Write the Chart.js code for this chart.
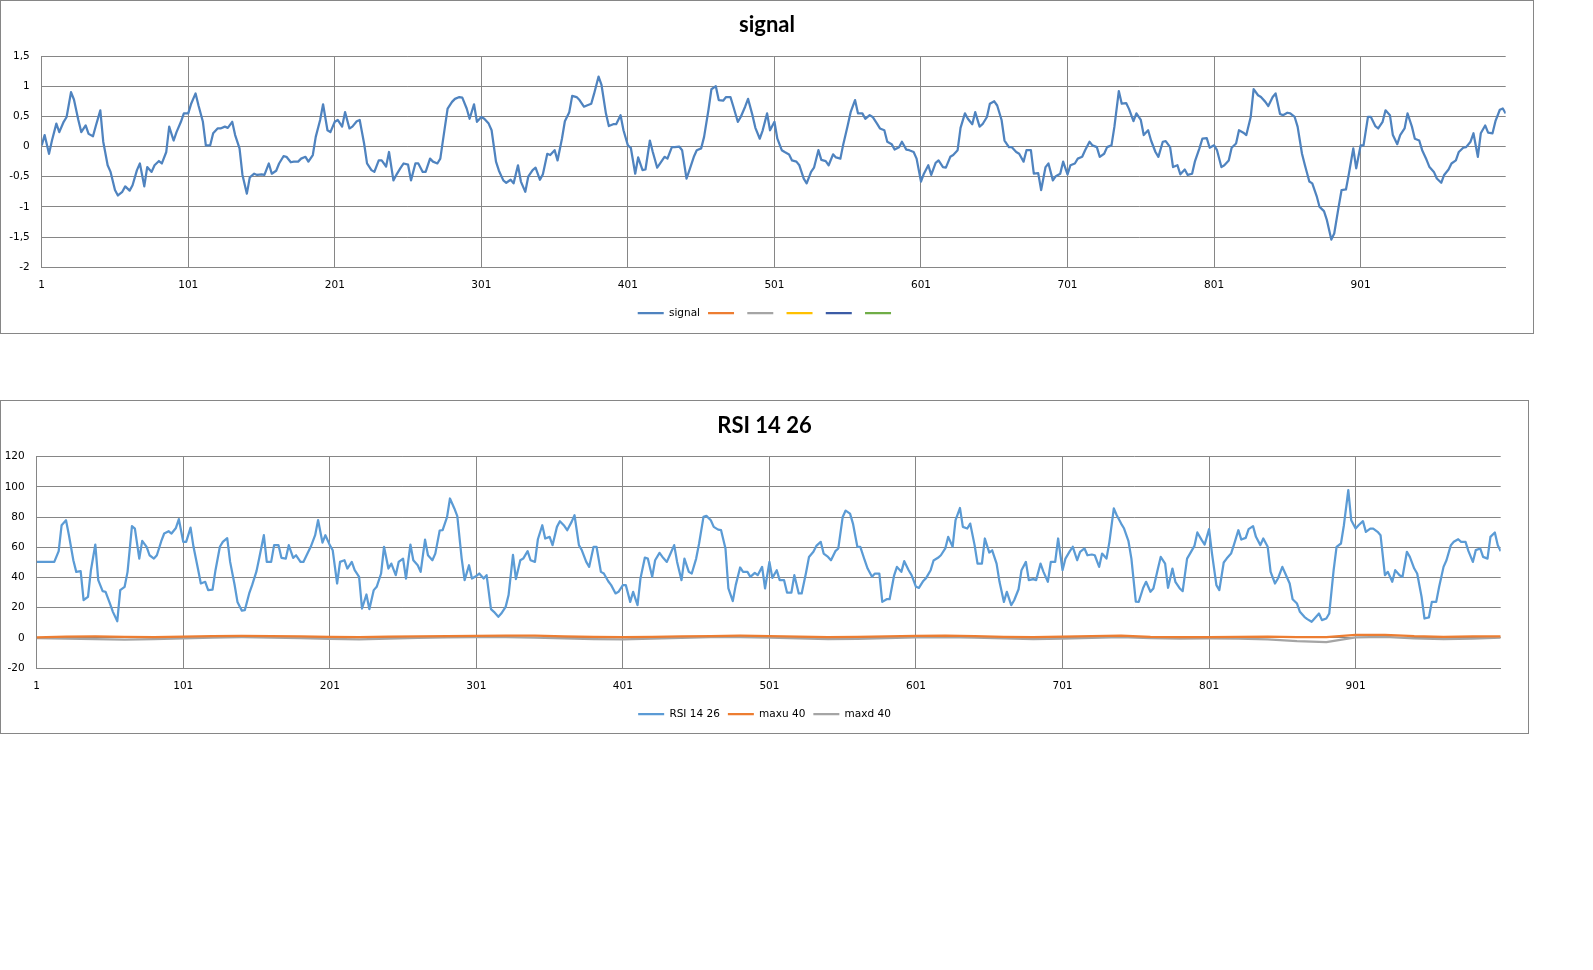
<!DOCTYPE html>
<html>
<head>
<meta charset="utf-8">
<script src="https://cdn.jsdelivr.net/npm/chart.js@4.4.0/dist/chart.umd.min.js"></script>
<style>
  html, body { margin: 0; padding: 0; background: #fff; }
  body { width: 1593px; height: 970px; position: relative; overflow: hidden; }
  .box { position: absolute; border: 1px solid #868686; box-sizing: border-box; background: #fff; }
  #box1 { left: 0; top: 0; width: 1534px; height: 334px; }
  #box2 { left: 0; top: 400px; width: 1529px; height: 334px; }
  canvas { display: block; }
</style>
</head>
<body>
<div class="box" id="box1"><canvas id="signalChart" width="1532" height="332"></canvas></div>
<div class="box" id="box2"><canvas id="rsiChart" width="1527" height="332"></canvas></div>
<script>
// sample positions on the 1..1000 category axis
const sampleIdx = Array.from({ length: 200 }, (_, i) => 1 + i * 5).concat([1000]);
const midIdx = Array.from({ length: 200 }, (_, i) => 3 + i * 5);
// slow series (maxu / maxd) read every 20 samples
const slowIdx = Array.from({ length: 50 }, (_, i) => 1 + i * 20).concat([1000]);
const xTicks = [1, 101, 201, 301, 401, 501, 601, 701, 801, 901];

// signal at 1, 6, 11 ... 996, 1000
const signalVals = [
  0.02, -0.12, 0.38, 0.41, 0.9, 0.44, 0.35, 0.17, 0.6, -0.31,
  -0.72, -0.75, -0.73, -0.39, -0.66, -0.42, -0.24, -0.09, 0.1, 0.41,
  0.55, 0.88, 0.41, 0.02, 0.3, 0.33, 0.41, -0.03, -0.78, -0.45,
  -0.46, -0.28, -0.4, -0.16, -0.26, -0.25, -0.17, -0.14, 0.44, 0.27,
  0.41, 0.33, 0.3, 0.42, 0.05, -0.39, -0.23, -0.33, -0.56, -0.35,
  -0.3, -0.28, -0.42, -0.2, -0.28, 0.3, 0.74, 0.82, 0.63, 0.7,
  0.49, 0.38, -0.25, -0.56, -0.55, -0.31, -0.75, -0.39, -0.55, -0.12,
  -0.06, 0.13, 0.57, 0.82, 0.66, 0.71, 1.16, 0.55, 0.37, 0.52,
  0.02, -0.45, -0.39, 0.1, -0.35, -0.17, -0.01, 0, -0.53, -0.17,
  -0.03, 0.61, 1.0, 0.76, 0.82, 0.41, 0.66, 0.52, 0.13, 0.55,
  0.41, -0.06, -0.13, -0.25, -0.53, -0.42, -0.06, -0.24, -0.13, -0.2,
  0.35, 0.77, 0.55, 0.52, 0.38, 0.27, 0.04, -0.01, -0.05, -0.09,
  -0.58, -0.31, -0.27, -0.34, -0.17, -0.06, 0.55, 0.37, 0.33, 0.49,
  0.75, 0.44, -0.01, -0.09, -0.25, -0.06, -0.44, -0.34, -0.56, -0.45,
  -0.46, -0.28, -0.17, 0.08, -0.01, -0.12, 0.02, 0.92, 0.72, 0.42,
  0.44, 0.27, -0.09, 0.08, -0.01, -0.31, -0.38, -0.45, -0.03, 0.14,
  0.02, -0.34, -0.23, 0.05, 0.23, 0.49, 0.85, 0.74, 0.82, 0.54,
  0.56, 0.49, -0.12, -0.58, -0.82, -1.07, -1.54, -1.0, -0.71, -0.03,
  0.02, 0.49, 0.34, 0.41, 0.52, 0.04, 0.3, 0.33, 0.1, -0.22,
  -0.42, -0.6, -0.38, -0.23, -0.02, 0.08, -0.17, 0.35, 0.22, 0.61,
  0.55
];
// signal at 3, 8, 13 ... 998
const signalMidVals = [
  0.19, 0.1, 0.24, 0.49, 0.78, 0.24, 0.21, 0.35, 0.08, -0.42,
  -0.81, -0.66, -0.64, -0.28, -0.34, -0.31, -0.28, 0.33, 0.24, 0.55,
  0.71, 0.68, 0.02, 0.22, 0.3, 0.31, 0.19, -0.47, -0.51, -0.47,
  -0.47, -0.45, -0.28, -0.17, -0.25, -0.2, -0.25, 0.16, 0.7, 0.24,
  0.44, 0.57, 0.33, 0.44, -0.28, -0.42, -0.23, -0.09, -0.47, -0.28,
  -0.56, -0.28, -0.42, -0.25, -0.2, 0.63, 0.79, 0.81, 0.46, 0.41,
  0.46, 0.27, -0.4, -0.6, -0.61, -0.58, -0.5, -0.35, -0.46, -0.14,
  -0.23, 0.42, 0.84, 0.77, 0.68, 0.88, 1.02, 0.34, 0.37, 0.27,
  -0.02, -0.18, -0.38, -0.09, -0.28, -0.2, -0.01, -0.06, -0.39, -0.06,
  0.16, 0.95, 0.77, 0.82, 0.66, 0.49, 0.79, 0.31, 0.27, 0.27,
  0.13, -0.09, -0.23, -0.31, -0.61, -0.35, -0.22, -0.31, -0.18, 0.04,
  0.57, 0.55, 0.46, 0.49, 0.3, 0.08, -0.05, 0.08, -0.06, -0.2,
  -0.45, -0.47, -0.23, -0.35, -0.14, 0.31, 0.46, 0.57, 0.37, 0.71,
  0.68, 0.1, -0.01, -0.12, -0.06, -0.45, -0.72, -0.28, -0.49, -0.25,
  -0.31, -0.2, -0.06, 0.02, -0.17, -0.01, 0.33, 0.71, 0.62, 0.55,
  0.19, 0.1, -0.17, 0.09, -0.34, -0.46, -0.47, -0.24, 0.13, -0.02,
  -0.06, -0.31, -0.02, 0.27, 0.19, 0.95, 0.82, 0.67, 0.88, 0.52,
  0.55, 0.33, -0.31, -0.61, -1.0, -1.22, -1.44, -0.72, -0.45, -0.36,
  0.02, 0.49, 0.3, 0.6, 0.19, 0.19, 0.55, 0.13, -0.06, -0.34,
  -0.53, -0.47, -0.28, -0.09, -0.01, 0.22, 0.22, 0.23, 0.42, 0.63
];

// RSI 14 26 at 1, 6, 11 ... 996, 1000
const rsiVals = [
  50.3, 50.3, 50.3, 57.4, 77.9, 51.4, 44.2, 27.2, 61.8, 30.9,
  22.7, 11, 33.8, 74, 52.5, 60.3, 52.5, 64, 70.6, 72.8,
  63.6, 73, 45.9, 37.1, 32, 60.3, 66, 35.3, 18, 29.4,
  44.2, 68, 50.3, 61.4, 52.5, 53, 50.3, 56.3, 68, 63.1,
  61.4, 36, 51.4, 50.3, 40.4, 28.7, 31.6, 42.6, 45.9, 41.5,
  52.5, 61.8, 48.1, 65, 51.4, 71.1, 80, 85.7, 52.5, 48.1,
  41, 39.3, 19, 13.9, 20.5, 55, 51.4, 57.4, 50.3, 74.6,
  66.9, 73.5, 74.2, 76.8, 61.4, 50.3, 60.3, 43.7, 37.5, 29.4,
  34.9, 23.8, 21.6, 53.2, 40.4, 56.3, 50.3, 61.4, 38.2, 43.7,
  52.5, 80.1, 77.9, 71.7, 59.2, 24.3, 46.6, 43.7, 43, 47,
  50.3, 44.8, 38.2, 30, 29.4, 43.3, 57, 63.6, 53.6, 57.4,
  80.1, 82.3, 60.3, 51.4, 40.4, 42.6, 25.6, 41, 43.7, 44.8,
  33.8, 37.7, 44.8, 53, 59.2, 60.3, 86, 72.4, 61.4, 49.2,
  56.5, 49.2, 23.8, 21.6, 32.2, 50.3, 38.9, 49.2, 37.1, 50.3,
  44.8, 57.4, 51.4, 59.2, 55.2, 47, 52.5, 85.7, 75.7, 64,
  24, 33, 30.5, 45.5, 49.2, 45.9, 32.7, 52.5, 60.9, 64.7,
  72, 34.9, 49.9, 55.8, 71.3, 66.2, 74, 61.4, 60.3, 36,
  47, 36, 22.7, 13.9, 10.6, 16.1, 12.8, 44.8, 62.5, 97.8,
  72.4, 77.3, 72.4, 70.2, 41.5, 37.1, 41.5, 57, 45.9, 27.2,
  13.5, 23.8, 47, 61.4, 65.3, 63.6, 50.3, 59.2, 52.5, 69.8,
  57.4
];
// RSI 14 26 at 3, 8, 13 ... 998
const rsiMidVals = [
  50.3, 50.3, 50.3, 74.6, 68, 43.7, 25, 44.8, 38.2, 30.5,
  17.2, 31.6, 43.7, 72.4, 64.2, 54.7, 54.7, 69.1, 69.1, 78.6,
  63.6, 60.3, 36, 31.6, 44.8, 63.6, 50.3, 23.8, 18.3, 34.9,
  53.6, 50.3, 61.4, 53, 61.4, 54.7, 50.3, 60.3, 78, 68,
  58, 50.3, 45.9, 44.8, 19.4, 19, 33.8, 60.3, 49.2, 50.3,
  39.3, 51.4, 43.7, 54.7, 55.8, 71.3, 92.3, 80.6, 38.2, 39.3,
  42.6, 41.5, 17.2, 16.1, 28.3, 38.9, 52.5, 51.4, 65.3, 65.8,
  61.4, 77.3, 71.3, 81.2, 58, 47, 60.3, 42.6, 34.9, 30.5,
  34.9, 30.5, 39.3, 52.5, 51.4, 53.6, 54.7, 50.3, 52.5, 42.6,
  62.5, 80.8, 73.5, 71.3, 32.7, 34.9, 43.7, 40.4, 41.5, 32.7,
  39.7, 38.2, 30, 41.5, 29.4, 53.6, 60.9, 55.8, 51.4, 59.2,
  84.3, 75.7, 60.3, 45.9, 42.6, 23.8, 25.6, 47, 50.8, 41.5,
  33.1, 39.7, 51.2, 54.7, 66.9, 77.9, 73.5, 75.7, 49.2, 65.8,
  58, 37.1, 30.5, 24.9, 44.8, 38.2, 38.2, 43.7, 50.3, 65.8,
  52.5, 60.3, 57, 54.7, 54.7, 55.8, 63.6, 81.2, 72.4, 52.5,
  23.8, 37.1, 32.7, 53.6, 33.1, 37.1, 30.9, 55.8, 69.8, 61.8,
  55.8, 31.6, 52.5, 61.8, 65.1, 72, 66.9, 65.8, 43.7, 39.3,
  42.6, 25.6, 17.2, 12.4, 12.8, 11.7, 16.1, 60.3, 74.6, 77.9,
  74.6, 70.2, 72.4, 68, 43.7, 44.8, 40.4, 53.6, 42.6, 12.8,
  23.8, 33.8, 51.4, 63.6, 63.6, 57.4, 58.1, 53.6, 66.9, 61.4
];

const maxuVals = [
  0.3, 0.8, 0.9, 0.6, 0.5, 0.8, 1.1, 1.3, 1.2, 0.9,
  0.7, 0.5, 0.8, 1.0, 1.1, 1.3, 1.5, 1.4, 1.0, 0.6,
  0.4, 0.6, 0.9, 1.2, 1.4, 1.2, 0.8, 0.5, 0.6, 0.9,
  1.3, 1.5, 1.2, 0.7, 0.5, 0.8, 1.1, 1.4, 0.6, 0.4,
  0.5, 0.6, 0.8, 0.4, 0.5, 1.9, 2.0, 1.1, 0.7, 0.9,
  1.0
];

const maxdVals = [
  -0.2, -0.5, -0.9, -1.2, -0.8, -0.3, 0.2, 0.4, 0.2, -0.2,
  -0.7, -1.0, -0.5, 0, 0.3, 0.5, 0.4, 0.1, -0.3, -0.8,
  -1.1, -0.6, -0.1, 0.4, 0.5, 0.2, -0.4, -0.9, -0.7, -0.2,
  0.3, 0.5, 0.2, -0.4, -0.8, -0.5, 0, 0.4, -0.2, -0.5,
  -0.4, -0.6, -1.0, -2.2, -2.8, 0.3, 0.6, -0.4, -0.9, -0.5,
  0.2
];

const GRID = '#868686';
const tickFont = { family: 'DejaVu Sans', size: 10.5 };

function points(idx, vals) {
  return idx.map((x, i) => ({ x: x, y: vals[i] }));
}

function merged(idxA, valsA, idxB, valsB) {
  return points(idxA, valsA).concat(points(idxB, valsB)).sort((a, b) => a.x - b.x);
}

function lineSet(label, data, color) {
  return {
    label: label,
    data: data,
    borderColor: color,
    backgroundColor: color,
    borderWidth: 2.25,
    pointRadius: 0,
    tension: 0,
    borderJoinStyle: 'round'
  };
}

function buildOptions(o) {
  return {
    responsive: false,
    animation: false,
    events: [],
    layout: { padding: { left: 0, right: 0, top: 0, bottom: o.bottom } },
    plugins: {
      title: {
        display: true,
        text: o.title,
        color: '#000',
        font: { family: 'Lato', size: 22, weight: 'bold' },
        padding: { top: o.titleTop, bottom: o.titleBottom }
      },
      legend: {
        position: 'bottom',
        labels: {
          usePointStyle: true,
          pointStyle: 'line',
          pointStyleWidth: 26,
          padding: 8,
          color: '#000',
          font: tickFont
        }
      },
      tooltip: { enabled: false }
    },
    scales: {
      x: {
        type: 'linear',
        min: 1,
        max: 1000,
        afterBuildTicks: s => { s.ticks = xTicks.map(v => ({ value: v })); },
        afterFit: s => { s.height = o.xHeight; },
        grid: { color: GRID, drawTicks: false },
        border: { color: GRID },
        ticks: { padding: 12, color: '#000', font: tickFont, maxRotation: 0, autoSkip: false, callback: v => String(v) }
      },
      y: {
        min: o.yMin,
        max: o.yMax,
        afterFit: s => { s.width = o.yWidth; },
        grid: { color: GRID, drawTicks: false },
        border: { color: GRID },
        ticks: { stepSize: o.yStep, padding: 12, color: '#000', font: tickFont, callback: v => String(v).replace('.', ',') }
      },
      // empty right-hand margin so the plot ends short of the frame
      yRight: {
        position: 'right',
        afterFit: s => { s.width = 27.3; },
        grid: { display: false },
        border: { display: false },
        ticks: { display: false }
      }
    }
  };
}

new Chart(document.getElementById('signalChart'), {
  type: 'line',
  data: {
    datasets: [
      lineSet('signal', merged(sampleIdx, signalVals, midIdx, signalMidVals), '#4F83BF'),
      lineSet('', [], '#ED7D31'),
      lineSet('', [], '#A5A5A5'),
      lineSet('', [], '#FFC000'),
      lineSet('', [], '#3B5BA5'),
      lineSet('', [], '#70AD47')
    ]
  },
  options: buildOptions({
    title: 'signal', bottom: 4.75, titleTop: 11.2, titleBottom: 17.4,
    xHeight: 32.45, yWidth: 40.7, yMin: -2, yMax: 1.5, yStep: 0.5
  })
});

new Chart(document.getElementById('rsiChart'), {
  type: 'line',
  data: {
    datasets: [
      lineSet('RSI 14 26', merged(sampleIdx, rsiVals, midIdx, rsiMidVals), '#5B9BD5'),
      lineSet('maxu 40', points(slowIdx, maxuVals), '#ED7D31'),
      lineSet('maxd 40', points(slowIdx, maxdVals), '#A5A5A5')
    ]
  },
  options: buildOptions({
    title: 'RSI 14 26', bottom: 3.55, titleTop: 11.5, titleBottom: 17.8,
    xHeight: 32.95, yWidth: 35.7, yMin: -20, yMax: 120, yStep: 20
  })
});
</script>
</body>
</html>
